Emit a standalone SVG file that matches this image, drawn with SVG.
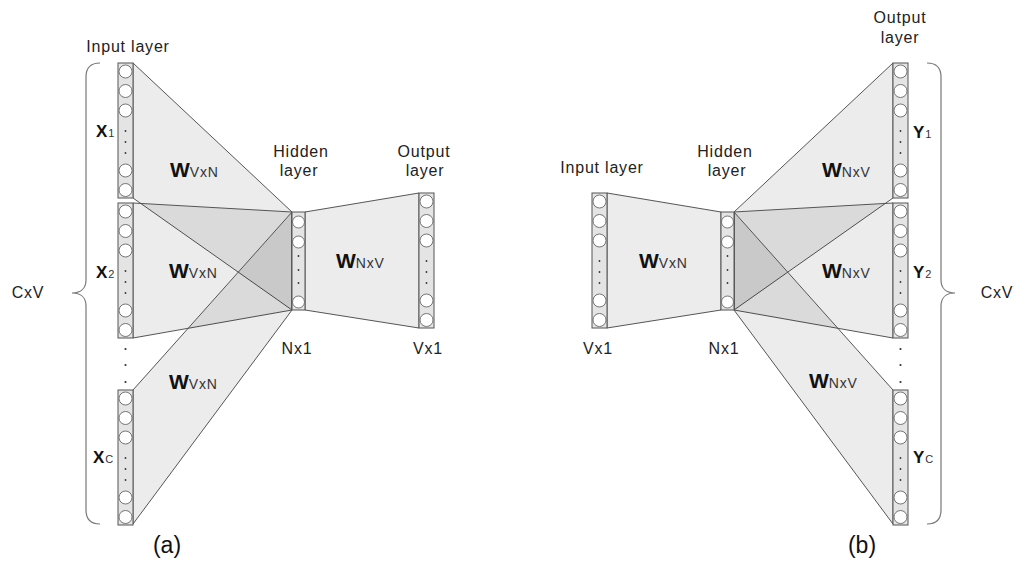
<svg xmlns="http://www.w3.org/2000/svg" xmlns:xlink="http://www.w3.org/1999/xlink" width="1014" height="565" viewBox="0 0 1014 565">
<style>
.lbl{font-family:"Liberation Sans",Arial,sans-serif;font-size:16px;fill:#222;letter-spacing:0.8px;text-anchor:middle}
.cap{font-family:"Liberation Sans",Arial,sans-serif;font-size:23px;fill:#111;text-anchor:middle}
.w{font-family:"Liberation Sans",Arial,sans-serif;fill:#111}
.wb{font-weight:bold;font-size:21px}
.ws{font-size:14px;letter-spacing:0.8px;fill:#333}
.xb{font-weight:bold;font-size:17px}
.xs{font-size:11px;fill:#333}
.trap{fill:#000;fill-opacity:0.075;stroke:#555;stroke-width:1}
.colr{fill:#e4e4e4;stroke:#555;stroke-width:1}
.cir{fill:#fff;stroke:#666;stroke-width:0.9}
.dot{fill:#333}
.brace{fill:none;stroke:#777;stroke-width:1.2}
</style>
<defs>
<g id="col8">
<rect class="colr" x="0" y="0" width="15" height="135"/>
<circle class="cir" cx="7.5" cy="8.5" r="6.5"/>
<circle class="cir" cx="7.5" cy="28" r="6.5"/>
<circle class="cir" cx="7.5" cy="47.5" r="6.5"/>
<circle class="dot" cx="7.5" cy="68" r="0.9"/>
<circle class="dot" cx="7.5" cy="79" r="0.9"/>
<circle class="dot" cx="7.5" cy="90" r="0.9"/>
<circle class="cir" cx="7.5" cy="107.5" r="6.5"/>
<circle class="cir" cx="7.5" cy="127" r="6.5"/>
</g>
<g id="col4">
<rect class="colr" x="0" y="0" width="13" height="98"/>
<circle class="cir" cx="6.5" cy="10" r="6"/>
<circle class="cir" cx="6.5" cy="30" r="6"/>
<circle class="dot" cx="6.5" cy="44" r="0.9"/>
<circle class="dot" cx="6.5" cy="58" r="0.9"/>
<circle class="dot" cx="6.5" cy="71" r="0.9"/>
<circle class="cir" cx="6.5" cy="90" r="6"/>
</g>
</defs>
<rect x="0" y="0" width="1014" height="565" fill="#fff"/>

<g id="connectors">
<polygon class="trap" points="133,63 292,212 292,310 133,198"/>
<polygon class="trap" points="133,203 292,212 292,310 133,338"/>
<polygon class="trap" points="133,390 292,212 292,310 133,524"/>
<polygon class="trap" points="305,212 419,193 419,328 305,310"/>
<polygon class="trap" points="607,193 721,212 721,310 607,328"/>
<polygon class="trap" points="734,212 893,63 893,198 734,310"/>
<polygon class="trap" points="734,212 893,203 893,338 734,310"/>
<polygon class="trap" points="734,212 893,390 893,524 734,310"/>
</g>

<g id="a-input-x1"><use xlink:href="#col8" x="118" y="63"/>
<text class="w" x="96" y="137"><tspan class="xb">X</tspan><tspan class="xs" dx="1">1</tspan></text></g>
<g id="a-input-x2"><use xlink:href="#col8" x="118" y="203"/>
<text class="w" x="96" y="278"><tspan class="xb">X</tspan><tspan class="xs" dx="1">2</tspan></text></g>
<g id="a-input-xc"><use xlink:href="#col8" x="118" y="390"/>
<text class="w" x="93" y="463"><tspan class="xb">X</tspan><tspan class="xs" dx="1">C</tspan></text></g>
<g id="a-hidden"><use xlink:href="#col4" x="292" y="212"/></g>
<g id="a-output"><use xlink:href="#col8" x="419" y="193"/></g>

<g id="b-input"><use xlink:href="#col8" x="592" y="193"/></g>
<g id="b-hidden"><use xlink:href="#col4" x="721" y="212"/></g>
<g id="b-output-y1"><use xlink:href="#col8" x="893" y="63"/>
<text class="w" x="913" y="138"><tspan class="xb">Y</tspan><tspan class="xs" dx="1">1</tspan></text></g>
<g id="b-output-y2"><use xlink:href="#col8" x="893" y="203"/>
<text class="w" x="913" y="278"><tspan class="xb">Y</tspan><tspan class="xs" dx="1">2</tspan></text></g>
<g id="b-output-yc"><use xlink:href="#col8" x="893" y="390"/>
<text class="w" x="913" y="463"><tspan class="xb">Y</tspan><tspan class="xs" dx="1">C</tspan></text></g>

<g id="weights">
<text class="w" x="170" y="177"><tspan class="wb">W</tspan><tspan class="ws">VxN</tspan></text>
<text class="w" x="169" y="278"><tspan class="wb">W</tspan><tspan class="ws">VxN</tspan></text>
<text class="w" x="169" y="389"><tspan class="wb">W</tspan><tspan class="ws">VxN</tspan></text>
<text class="w" x="336" y="268"><tspan class="wb">W</tspan><tspan class="ws">NxV</tspan></text>
<text class="w" x="639" y="268"><tspan class="wb">W</tspan><tspan class="ws">VxN</tspan></text>
<text class="w" x="822" y="177"><tspan class="wb">W</tspan><tspan class="ws">NxV</tspan></text>
<text class="w" x="822" y="278"><tspan class="wb">W</tspan><tspan class="ws">NxV</tspan></text>
<text class="w" x="809" y="388"><tspan class="wb">W</tspan><tspan class="ws">NxV</tspan></text>
</g>

<g id="labels">
<text class="lbl" x="128" y="52">Input layer</text>
<text class="lbl" x="301" y="157">Hidden</text>
<text class="lbl" x="299" y="176">layer</text>
<text class="lbl" x="424" y="157">Output</text>
<text class="lbl" x="425" y="176">layer</text>
<text class="lbl" x="297" y="354">Nx1</text>
<text class="lbl" x="428" y="354">Vx1</text>
<text class="lbl" x="28" y="298">CxV</text>
<text class="cap" x="167" y="553">(a)</text>

<text class="lbl" x="602" y="173">Input layer</text>
<text class="lbl" x="725" y="157">Hidden</text>
<text class="lbl" x="727" y="176">layer</text>
<text class="lbl" x="900" y="23">Output</text>
<text class="lbl" x="900" y="43">layer</text>
<text class="lbl" x="598" y="354">Vx1</text>
<text class="lbl" x="724" y="354">Nx1</text>
<text class="lbl" x="997" y="298">CxV</text>
<text class="cap" x="862" y="553">(b)</text>
</g>

<g id="ellipses">
<circle class="dot" cx="125.5" cy="349" r="1.1"/>
<circle class="dot" cx="125.5" cy="365" r="1.1"/>
<circle class="dot" cx="125.5" cy="382" r="1.1"/>
<circle class="dot" cx="900.5" cy="349" r="1.1"/>
<circle class="dot" cx="900.5" cy="365" r="1.1"/>
<circle class="dot" cx="900.5" cy="382" r="1.1"/>
</g>

<g id="braces">
<path class="brace" d="M100,63 Q86,63 86,77 L86,280 C86,289 80,293 72,293 C80,293 86,297 86,306 L86,510 Q86,524 100,524"/>
<path class="brace" d="M927,63 Q941,63 941,77 L941,280 C941,289 947,293 955,293 C947,293 941,297 941,306 L941,510 Q941,524 927,524"/>
</g>
</svg>
